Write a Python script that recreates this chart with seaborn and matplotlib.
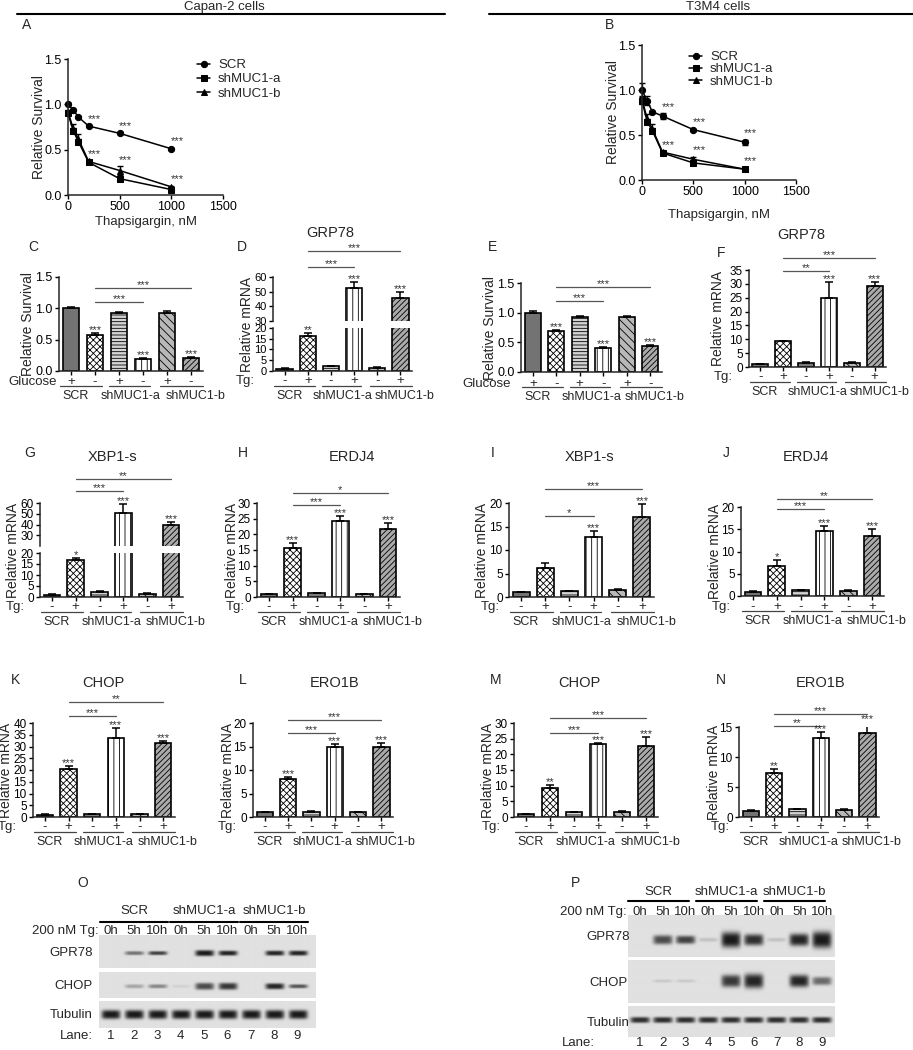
import numpy as np
import pandas as pd
import seaborn as sns
import matplotlib.pyplot as plt
from matplotlib.lines import Line2D
from matplotlib.transforms import blended_transform_factory as blend

# ---------------- data ----------------
doses = [0, 50, 100, 200, 500, 1000]
lines = ["SCR", "shMUC1-a", "shMUC1-b"]

# A: Capan-2 survival
a_scr = [1.00, 0.94, 0.86, 0.76, 0.68, 0.51]
a_sha = [0.90, 0.71, 0.59, 0.36, 0.18, 0.06]
a_shb = [0.92, 0.73, 0.62, 0.37, 0.27, 0.09]
a_scr_err = [0.01, 0.01, 0.01, 0.01, 0.01, 0.01]
a_sha_err = [0.02, 0.03, 0.03, 0.01, 0.03, 0.01]
a_shb_err = [0.02, 0.05, 0.05, 0.01, 0.05, 0.01]

# B: T3M4 survival
b_scr = [1.00, 0.88, 0.76, 0.71, 0.56, 0.42]
b_sha = [0.88, 0.65, 0.55, 0.30, 0.19, 0.12]
b_shb = [0.90, 0.68, 0.57, 0.31, 0.23, 0.12]
b_scr_err = [0.08, 0.05, 0.01, 0.03, 0.01, 0.03]
b_sha_err = [0.03, 0.03, 0.03, 0.01, 0.02, 0.02]
b_shb_err = [0.03, 0.05, 0.05, 0.01, 0.03, 0.01]

groups = ["SCR", "shMUC1-a", "shMUC1-b"]
conds = ["SCR 1", "SCR 2", "a 1", "a 2", "b 1", "b 2"]
tg_signs = ["-", "+", "-", "+", "-", "+"]
glu_signs = ["+", "-", "+", "-", "+", "-"]

c_vals = [1.00, 0.58, 0.92, 0.19, 0.93, 0.20]
c_err = [0.02, 0.02, 0.02, 0.02, 0.02, 0.02]
c_stars = ["", "***", "", "***", "", "***"]
c_sig = ["***", "***"]

d_vals = [1.0, 16.3, 2.3, 52.5, 1.6, 45.5]
d_err = [0.2, 1.3, 0.2, 3.8, 0.2, 4.0]
d_stars = ["", "**", "", "***", "", "***"]
d_sig = ["***", "***"]

e_vals = [1.00, 0.69, 0.92, 0.41, 0.93, 0.43]
e_err = [0.02, 0.02, 0.02, 0.01, 0.01, 0.03]
e_stars = ["", "***", "", "***", "", "***"]
e_sig = ["***", "***"]

f_vals = [1.0, 9.3, 1.4, 24.8, 1.6, 29.3]
f_err = [0.2, 0.2, 0.3, 5.8, 0.2, 1.5]
f_stars = ["", "", "", "***", "", "***"]
f_sig = ["***", "**"]

g_vals = [1.0, 17.0, 2.5, 51.0, 1.5, 39.5]
g_err = [0.2, 0.8, 0.3, 8.0, 0.2, 2.5]
g_stars = ["", "*", "", "***", "", "***"]
g_sig = ["**", "***"]

h_vals = [1.0, 15.5, 1.2, 24.2, 1.0, 21.8]
h_err = [0.1, 1.7, 0.1, 1.5, 0.1, 1.9]
h_stars = ["", "***", "", "***", "", "***"]
h_sig = ["*", "***"]

i_vals = [1.0, 6.2, 1.2, 12.8, 1.5, 17.0]
i_err = [0.1, 1.0, 0.1, 1.2, 0.2, 2.7]
i_stars = ["", "", "", "***", "", "***"]
i_sig = ["***", "*"]

j_vals = [1.0, 6.8, 1.3, 14.6, 1.2, 13.4]
j_err = [0.1, 1.2, 0.1, 1.2, 0.1, 1.6]
j_stars = ["", "*", "", "***", "", "***"]
j_sig = ["**", "***"]

k_vals = [1.0, 20.3, 1.2, 33.8, 1.1, 31.3]
k_err = [0.1, 1.5, 0.1, 4.0, 0.1, 1.2]
k_stars = ["", "***", "", "***", "", "***"]
k_sig = ["**", "***"]

l_vals = [1.0, 8.0, 1.1, 15.0, 1.0, 15.0]
l_err = [0.1, 0.5, 0.1, 0.5, 0.1, 0.8]
l_stars = ["", "***", "", "***", "", "***"]
l_sig = ["***", "***"]

m_vals = [1.0, 9.4, 1.5, 23.2, 1.7, 22.8]
m_err = [0.1, 0.9, 0.1, 0.5, 0.1, 2.6]
m_stars = ["", "**", "", "***", "", "***"]
m_sig = ["***", "***"]

n_vals = [1.0, 7.3, 1.3, 13.2, 1.2, 14.0]
n_err = [0.1, 0.7, 0.1, 1.0, 0.1, 1.8]
n_stars = ["", "**", "", "***", "", "***"]
n_sig = ["***", "**"]

# western blots: band strength per lane (0 = no band) and band thickness
times = ["0h", "5h", "10h"] * 3
lane_ids = [str(i) for i in range(1, 10)]
o_grp = [0, 0.55, 0.8, 0, 1.0, 0.95, 0, 0.95, 0.95]
o_grp_h = [0, 4, 4, 0, 6, 5, 0, 5, 5]
o_chop = [0, 0.3, 0.45, 0.08, 0.75, 0.85, 0, 0.95, 0.7]
o_chop_h = [0, 4, 4, 3, 7, 7, 0, 6, 4]
o_tub = [1.0] * 9
o_tub_h = [9] * 9
p_grp = [0, 0.75, 0.8, 0.15, 1.0, 0.9, 0.15, 0.95, 1.0]
p_grp_h = [0, 9, 8, 4, 15, 11, 4, 12, 16]
p_chop = [0, 0.12, 0.12, 0, 0.85, 0.95, 0, 0.95, 0.6]
p_chop_h = [0, 3, 3, 0, 12, 14, 0, 12, 8]
p_tub = [0.9] * 9
p_tub_h = [6] * 9

# ---------------- setup ----------------
W, H = 913, 1050
sns.set_style("ticks")
plt.rcParams["font.family"] = ["Liberation Sans", "DejaVu Sans"]
plt.rcParams["hatch.linewidth"] = 0.6
plt.rcParams["axes.linewidth"] = 1.1

fig = plt.figure(figsize=(W / 100, H / 100), dpi=100)

bar_faces = ["#737373", "white", "#d4d4d4", "white", "#b8b8b8", "#aaaaaa"]
bar_hatches = ["", "xxxxx", "-----", "|||", "\\\\\\\\", "//////"]
grp_spans = [(-0.45, 1.3), (1.6, 3.3), (3.7, 5.5)]
grp_label_x = [0.2, 2.5, 5.2]
STAR = 8


def px_ax(l, t, r, b):
    return fig.add_axes([l / W, 1 - b / H, (r - l) / W, (b - t) / H])


def fy(y):
    return 1 - y / H


def ftext(x, y, s, size=9.5, **kw):
    fig.text(x / W, fy(y), s, fontsize=size, **kw)


def fline(x1, x2, y, lw=1.5):
    fig.add_artist(Line2D([x1 / W, x2 / W], [fy(y), fy(y)], color="black", lw=lw))


def set_y(ax, ylim, ticks, fmt, size):
    ax.set_ylim(*ylim)
    ax.set_yticks(ticks)
    ax.set_yticklabels([fmt.format(v) for v in ticks])
    sns.despine(ax=ax)
    ax.tick_params(length=3, width=1, labelsize=size, pad=1.5, colors="black")


def star(ax, s, x, y, dx=0, dy=-1.5):
    ax.annotate(s, (x, y), xytext=(dx, dy), textcoords="offset points", ha="center",
                va="bottom", fontsize=STAR, color="#333333", annotation_clip=False)


def draw_bars(ax, vals, errs):
    df = pd.DataFrame({"cond": conds, "val": vals})
    sns.barplot(data=df, x="cond", y="val", order=conds, color="white", width=0.7,
                errorbar=None, edgecolor="black", linewidth=1.2, ax=ax)
    for p, fc, h in zip(ax.patches, bar_faces, bar_hatches):
        p.set_facecolor(fc)
        p.set_hatch(h)
    ax.errorbar(range(6), vals, yerr=[np.zeros(6), errs], fmt="none", ecolor="black",
                elinewidth=1.1, capsize=3, capthick=1.1)
    ax.set_xlim(-0.5, 5.5)
    ax.set_xticks(range(6))
    ax.set_xticklabels([])
    ax.set_xlabel("")
    ax.set_ylabel("")


def cond_row(ax, bottom, label, right, signs, dy=10):
    tr = blend(ax.transData, fig.transFigure)
    for i, s in enumerate(signs):
        ax.text(i, fy(bottom + dy), s, transform=tr, ha="center", va="center", fontsize=9.5)
    ftext(right, bottom + dy, label, ha="right", va="center")
    for (x1, x2), name, lx in zip(grp_spans, groups, grp_label_x):
        ax.plot([x1, x2], [fy(bottom + 15)] * 2, transform=tr, color="#444444", lw=0.9, clip_on=False)
        ax.text(lx, fy(bottom + 25), name, transform=tr, ha="center", va="center", fontsize=9)


def bar_panel(rect, vals, errs, stars, sig, sig_y, ylim, yticks, fmt="{:g}", split=None,
              ylab="Relative mRNA", ylab_dx=-24, cond="Tg:", cond_right=0,
              signs=tg_signs, ticksize=8.5, cond_dy=10):
    l, t, r, b = rect
    ax = px_ax(*rect)
    draw_bars(ax, vals, errs)
    set_y(ax, ylim, yticks, fmt, ticksize)
    top_ax, full_top = ax, t
    if split is not None:
        (tt, tb), tylim, tticks = split
        top_ax = px_ax(l, tt, r, tb)
        draw_bars(top_ax, vals, errs)
        set_y(top_ax, tylim, tticks, fmt, ticksize)
        top_ax.spines["bottom"].set_visible(False)
        top_ax.tick_params(axis="x", bottom=False)
        full_top = tt
    for i, s in enumerate(stars):
        if not s:
            continue
        tgt = ax if (split is None or vals[i] + errs[i] <= ylim[1]) else top_ax
        star(tgt, s, i, vals[i] + errs[i])
    for x2, y, s in zip((5, 3), sig_y, sig):
        top_ax.plot([1, x2], [y, y], color="#555555", lw=0.9, clip_on=False)
        star(top_ax, s, (1 + x2) / 2, y)
    ftext(l + ylab_dx, (full_top + b) / 2, ylab, size=10, rotation=90, ha="center", va="center")
    cond_row(ax, b, cond, cond_right, signs, cond_dy)


def survival(rect, scr, sha, shb, e_scr, e_sha, e_shb, leg_xy, leg_space, ylab_dx, xlab_y):
    l, t, r, b = rect
    ax = px_ax(*rect)
    df = pd.DataFrame({"dose": doses * 3, "surv": scr + sha + shb,
                       "line": [n for n in lines for _ in doses]})
    sns.lineplot(data=df, x="dose", y="surv", hue="line", style="line",
                 markers=["o", "s", "^"], dashes=False, palette=["black"] * 3,
                 markersize=4.5, markeredgecolor="black", linewidth=1.1, ax=ax)
    for v, e in [(scr, e_scr), (sha, e_sha), (shb, e_shb)]:
        ax.errorbar(doses, v, yerr=e, fmt="none", ecolor="black", elinewidth=1, capsize=2.5)
    for ln in ax.lines:
        ln.set_clip_on(False)
    for i in (3, 4, 5):
        hi = scr[i] + e_scr[i]
        lo = max(sha[i] + e_sha[i], shb[i] + e_shb[i])
        for y in (hi, lo):
            star(ax, "***", doses[i], y, dx=4, dy=1)
    ax.set_xlim(0, 1500)
    ax.set_xticks([0, 500, 1000, 1500])
    set_y(ax, (0, 1.5), [0, 0.5, 1.0, 1.5], "{:.1f}", 9)
    ax.set_xlabel("")
    ax.set_ylabel("")
    ftext((l + r) / 2, xlab_y, "Thapsigargin, nM", ha="center", va="center")
    ftext(l + ylab_dx, (t + b) / 2, "Relative Survival", size=10, rotation=90, ha="center", va="center")
    handles, labels = ax.get_legend_handles_labels()
    keep = [(h, lb) for h, lb in zip(handles, labels) if lb in lines]
    ax.legend([h for h, _ in keep], [lb for _, lb in keep], loc="upper left",
              bbox_to_anchor=(leg_xy[0] / W, fy(leg_xy[1])), bbox_transform=fig.transFigure,
              frameon=False, fontsize=9.5, handlelength=1.0, handletextpad=0.6,
              labelspacing=leg_space, borderpad=0, borderaxespad=0)


def blot_row(rect, lo, hi, inten, heights, yc, bw):
    l, t, r, b = rect
    ax = px_ax(*rect)
    hpx = b - t
    nx, ny = (r - l) * 4, hpx * 4
    X, Y = np.meshgrid(np.linspace(lo, hi, nx), np.linspace(0, 1, ny))
    dark = np.zeros_like(X)
    for lane, (v, bh) in enumerate(zip(inten, heights), start=1):
        if v <= 0:
            continue
        fx = np.exp(-np.abs((X - lane) / (bw / 2)) ** 5)
        fyy = np.exp(-np.abs((Y - yc) / (bh / hpx / 2)) ** 3)
        dark = np.maximum(dark, v * fx * fyy)
    img = 0.88 - dark * 0.78
    ax.imshow(img, cmap="gray", vmin=0, vmax=1, aspect="auto", extent=(lo, hi, 1, 0),
              interpolation="bilinear")
    ax.set_xlim(lo, hi)
    ax.set_ylim(1, 0)
    ax.axis("off")
    return ax


def blot_panel(x0, x1, lo, hi, rows, row_names, name_x, name_ha, grp_y, line_y, time_y,
               lane_y, span, tg_x, tg_ha, lane_x, bw):
    axes = []
    for (t, b, inten, heights, yc), nm in zip(rows, row_names):
        ax = blot_row((x0, t, x1, b), lo, hi, inten, heights, yc, bw)
        ftext(name_x, (t + b) / 2 + 1, nm, ha=name_ha, va="center")
        axes.append(ax)
    ax = axes[0]
    tr = blend(ax.transData, fig.transFigure)
    for g, name in enumerate(groups):
        a, c = 3 * g + 1 + span[0], 3 * g + 3 + span[1]
        ax.text((a + c) / 2, fy(grp_y), name, transform=tr, ha="center", va="center", fontsize=9.5)
        ax.plot([a, c], [fy(line_y)] * 2, transform=tr, color="black", lw=1.5, clip_on=False)
    for k, s in enumerate(times, start=1):
        ax.text(k, fy(time_y), s, transform=tr, ha="center", va="center", fontsize=9.5)
    for k, s in enumerate(lane_ids, start=1):
        ax.text(k, fy(lane_y), s, transform=tr, ha="center", va="center", fontsize=9.5)
    ftext(tg_x, time_y, "200 nM Tg:", ha=tg_ha, va="center")
    ftext(lane_x, lane_y, "Lane:", ha=tg_ha, va="center")


# ---------------- headers ----------------
ftext(224, 7, "Capan-2 cells", ha="center", va="center")
fline(17, 445, 14)
ftext(718, 7, "T3M4 cells", ha="center", va="center")
fline(489, 913, 14)

# ---------------- panel letters and titles ----------------
for s, x, y in [("A", 27, 25), ("B", 609, 25), ("C", 33, 247), ("D", 242, 247),
                ("E", 492, 247), ("F", 721, 253), ("G", 30, 453), ("H", 243, 453),
                ("I", 493, 453), ("J", 726, 453), ("K", 16, 680), ("L", 243, 680),
                ("M", 496, 680), ("N", 721, 680), ("O", 83, 883), ("P", 575, 883)]:
    ftext(x, y, s, size=10, ha="center", va="center")
for s, x, y in [("GRP78", 330, 233), ("GRP78", 801, 235), ("XBP1-s", 112, 457),
                ("ERDJ4", 352, 457), ("XBP1-s", 589, 457), ("ERDJ4", 806, 457),
                ("CHOP", 103, 683), ("ERO1B", 335, 683), ("CHOP", 579, 683),
                ("ERO1B", 821, 683)]:
    ftext(x, y, s, ha="center", va="center", size=10.5)

# ---------------- A, B ----------------
survival((68, 59, 223, 195), a_scr, a_sha, a_shb, a_scr_err, a_sha_err, a_shb_err,
         (197, 59), 0.15, -29, 222)
survival((642, 45, 796, 180), b_scr, b_sha, b_shb, b_scr_err, b_sha_err, b_shb_err,
         (689, 51), 0.0, -29, 215)

# ---------------- bar panels ----------------
bar_panel((59, 277, 203, 371), c_vals, c_err, c_stars, c_sig, (1.32, 1.10), (0, 1.5),
          [0, 0.5, 1.0, 1.5], "{:.1f}", ylab="Relative Survival", ylab_dx=-31,
          cond="Glucose", cond_right=57, signs=glu_signs, ticksize=9, cond_dy=11)
bar_panel((273, 328, 412, 371), d_vals, d_err, d_stars, d_sig, (77.5, 67), (0, 20),
          [0, 5, 10, 15, 20], split=((277, 321), (30, 60), [30, 40, 50, 60]),
          ylab_dx=-26, cond_right=255, ticksize=8)
bar_panel((521, 283, 662, 372), e_vals, e_err, e_stars, e_sig, (1.43, 1.2), (0, 1.5),
          [0, 0.5, 1.0, 1.5], "{:.1f}", ylab="Relative Survival", ylab_dx=-31,
          cond="Glucose", cond_right=511, signs=glu_signs, ticksize=9, cond_dy=12)
bar_panel((749, 270, 886, 367), f_vals, f_err, f_stars, f_sig, (39.4, 34.7), (0, 35),
          list(range(0, 36, 5)), ylab_dx=-31, cond_right=733)
bar_panel((40, 553, 183, 597), g_vals, g_err, g_stars, g_sig, (82, 71), (0, 20),
          [0, 5, 10, 15, 20], split=((503, 546), (20, 60), [30, 40, 50, 60]),
          ylab_dx=-27, cond_right=25)
bar_panel((257, 503, 400, 597), h_vals, h_err, h_stars, h_sig, (33.2, 29.4), (0, 30),
          list(range(0, 31, 5)), ylab_dx=-25, cond_right=245)
bar_panel((509, 503, 654, 597), i_vals, i_err, i_stars, i_sig, (23, 17.2), (0, 20),
          [0, 5, 10, 15, 20], ylab_dx=-27, cond_right=500)
bar_panel((741, 507, 884, 596), j_vals, j_err, j_stars, j_sig, (21.8, 19.6), (0, 20),
          [0, 5, 10, 15, 20], ylab_dx=-26, cond_right=731, cond_dy=11)
bar_panel((33, 723, 175, 817), k_vals, k_err, k_stars, k_sig, (48.9, 43), (0, 40),
          list(range(0, 41, 5)), ylab_dx=-27, cond_right=17)
bar_panel((253, 723, 393, 817), l_vals, l_err, l_stars, l_sig, (20.6, 17.9), (0, 20),
          [0, 5, 10, 15, 20], ylab_dx=-25, cond_right=237)
bar_panel((514, 723, 658, 817), m_vals, m_err, m_stars, m_sig, (31.6, 26.8), (0, 30),
          list(range(0, 31, 5)), ylab_dx=-26, cond_right=501)
bar_panel((739, 727, 879, 817), n_vals, n_err, n_stars, n_sig, (17.2, 15.2), (0, 15),
          [0, 5, 10, 15], ylab_dx=-25, cond_right=730)

# ---------------- western blots ----------------
blot_panel(99, 315, 0.49, 9.75,
           [(935, 968, o_grp, o_grp_h, 0.55), (972, 998, o_chop, o_chop_h, 0.55),
            (1001, 1028, o_tub, o_tub_h, 0.5)],
           ["GPR78", "CHOP", "Tubulin"], 93, "right", 911, 922, 931, 1036,
           (-0.45, 0.45), 99, "right", 93, 0.8)
blot_panel(628, 835, 0.47, 9.57,
           [(915, 957, p_grp, p_grp_h, 0.6), (960, 1003, p_chop, p_chop_h, 0.5),
            (1006, 1037, p_tub, p_tub_h, 0.45)],
           ["GPR78", "CHOP", "Tubulin"], 608, "center", 892, 901, 912, 1043,
           (-0.55, 0.15), 560, "left", 562, 0.85)

fig.savefig("out.png", dpi=100)
